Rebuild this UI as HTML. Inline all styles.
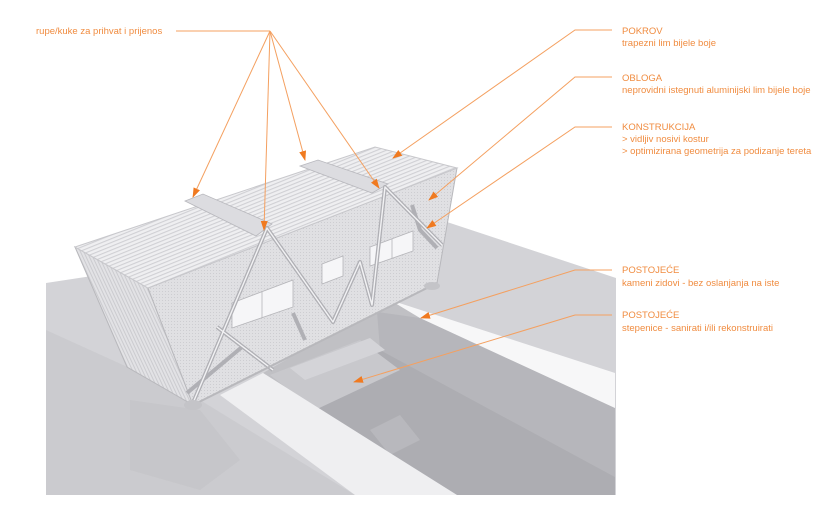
<!DOCTYPE html>
<html><head><meta charset="utf-8"><style>
html,body{margin:0;padding:0;background:#fff;}
svg{display:block;}
text{font-family:"Liberation Sans",sans-serif;fill:#f08c40;font-size:9.5px;}
</style></head><body>
<svg width="830" height="515" viewBox="0 0 830 515" xmlns="http://www.w3.org/2000/svg">
<defs>
<pattern id="roof" width="3.5" height="3.5" patternUnits="userSpaceOnUse" patternTransform="rotate(-22)">
<rect width="4" height="4" fill="#efeff1"/><rect width="4" height="1.1" fill="#d0d0d4"/>
</pattern>
<pattern id="hatch" width="3" height="3" patternUnits="userSpaceOnUse" patternTransform="rotate(65)">
<rect width="3" height="3" fill="#e2e2e5"/><rect width="3" height="1" fill="#cbcbcf"/>
</pattern>
<pattern id="dots" width="3" height="3" patternUnits="userSpaceOnUse">
<rect width="3" height="3" fill="#e0e0e3"/><rect width="1" height="1" fill="#cdcdd1"/>
</pattern>
<marker id="ar" markerWidth="10" markerHeight="10" refX="9" refY="5" orient="auto" markerUnits="userSpaceOnUse">
<path d="M0,1.5 L10,5 L0,8.5 Z" fill="#f07a20"/>
</marker>
</defs>

<!-- ground -->
<polygon points="46,283 447,222 616,278 616,495 46,495" fill="#d3d3d7"/>
<polygon points="46,330 200,400 355,495 46,495" fill="#cbcbcf"/>
<polygon points="130,400 200,410 240,460 200,490 130,470" fill="#c6c6ca"/>
<!-- trench -->
<polygon points="263,373 390,300 420,318 615,408 615,495 457,495" fill="#c0c0c4"/>
<polygon points="377,312 420,318 615,408 615,477 380,350" fill="#b6b6bb"/>
<polygon points="300,402 380,350 615,477 615,495 430,495" fill="#adadb2"/>
<polygon points="270,375 360,340 400,370 315,410" fill="#c8c8cc"/>
<polygon points="290,368 370,338 385,350 305,380" fill="#d4d4d8"/>
<polygon points="370,430 400,415 420,440 390,455" fill="#b8b8bd"/>
<!-- right wall top strip -->
<polygon points="390,300 615,373 615,408 420,318" fill="#f7f7f8"/>
<!-- left beam -->
<polygon points="220,395 263,373 457,495 355,495" fill="#efeff1"/>

<!-- box: left end -->
<polygon points="75,247 148,288 193,405 127,367" fill="url(#hatch)" stroke="#b8b8bc" stroke-width="1"/>
<!-- front facade -->
<polygon points="148,288 457,168 437,283 193,405" fill="url(#dots)" stroke="#b8b8bc" stroke-width="1"/>
<!-- roof -->
<polygon points="75,247 375,147 457,168 148,288" fill="url(#roof)" stroke="#c8c8cc" stroke-width="1"/>
<!-- roof slots -->
<polygon points="185,201 203,194 272,224 256,236" fill="#dcdce0" stroke="#b8b8bd" stroke-width="0.8"/>
<polygon points="300,166 318,160 388,184 372,193" fill="#dcdce0" stroke="#b8b8bd" stroke-width="0.8"/>
<!-- windows -->
<polygon points="232,303 293,280 293,307 232,328" fill="#f6f6f8" stroke="#b5b5b9" stroke-width="0.8"/>
<line x1="262" y1="292" x2="262" y2="318" stroke="#b5b5b9" stroke-width="0.8"/>
<polygon points="322,264 343,256 343,276 322,284" fill="#f6f6f8" stroke="#b5b5b9" stroke-width="0.8"/>
<polygon points="370,247 413,231 413,251 370,266" fill="#f6f6f8" stroke="#b5b5b9" stroke-width="0.8"/>
<line x1="392" y1="239" x2="392" y2="259" stroke="#b5b5b9" stroke-width="0.8"/>
<!-- frame -->
<g fill="none" stroke="#b0b0b5" stroke-width="4" stroke-linejoin="round">
<polyline points="193,403 267,228 333,322 360,262 372,305 385,187 442,245"/>
<polyline points="217,327 273,370"/>
<polyline points="242,347 187,393"/>
<polyline points="293,313 305,340"/>
<polyline points="412,205 420,230 437,248"/>
</g>
<g fill="none" stroke="#f2f2f4" stroke-width="1.4" stroke-linejoin="round">
<polyline points="193,403 267,228 333,322 360,262 372,305 385,187 442,245"/>
<polyline points="217,327 273,370"/>
</g>
<line x1="193" y1="405" x2="437" y2="283" stroke="#b8b8bc" stroke-width="2"/>
<!-- feet -->
<ellipse cx="193" cy="405" rx="9" ry="5" fill="#c4c4c8"/>
<ellipse cx="432" cy="286" rx="8" ry="4" fill="#c4c4c8"/>

<!-- annotations -->
<g stroke="#f4a060" stroke-width="1" fill="none">
<line x1="176" y1="31" x2="270" y2="31"/>
<line x1="270" y1="31" x2="193" y2="197" marker-end="url(#ar)"/>
<line x1="270" y1="31" x2="264" y2="230" marker-end="url(#ar)"/>
<line x1="270" y1="31" x2="305" y2="160" marker-end="url(#ar)"/>
<line x1="270" y1="31" x2="379" y2="188" marker-end="url(#ar)"/>

<polyline points="612,30 575,30 393,158" marker-end="url(#ar)"/>
<polyline points="612,77 575,77 429,200" marker-end="url(#ar)"/>
<polyline points="612,127 575,127 427,228" marker-end="url(#ar)"/>
<polyline points="612,270 575,270 421,318" marker-end="url(#ar)"/>
<polyline points="612,315 575,315 354,382" marker-end="url(#ar)"/>
</g>

<text x="36" y="34">rupe/kuke za prihvat i prijenos</text>
<text x="622" y="34">POKROV</text>
<text x="622" y="46">trapezni lim bijele boje</text>
<text x="622" y="81">OBLOGA</text>
<text x="622" y="93">neprovidni istegnuti aluminijski lim bijele boje</text>
<text x="622" y="130">KONSTRUKCIJA</text>
<text x="622" y="142">&gt; vidljiv nosivi kostur</text>
<text x="622" y="154">&gt; optimizirana geometrija za podizanje tereta</text>
<text x="622" y="273">POSTOJEĆE</text>
<text x="622" y="286">kameni zidovi - bez oslanjanja na iste</text>
<text x="622" y="318">POSTOJEĆE</text>
<text x="622" y="331">stepenice - sanirati i/ili rekonstruirati</text>
</svg>
</body></html>
